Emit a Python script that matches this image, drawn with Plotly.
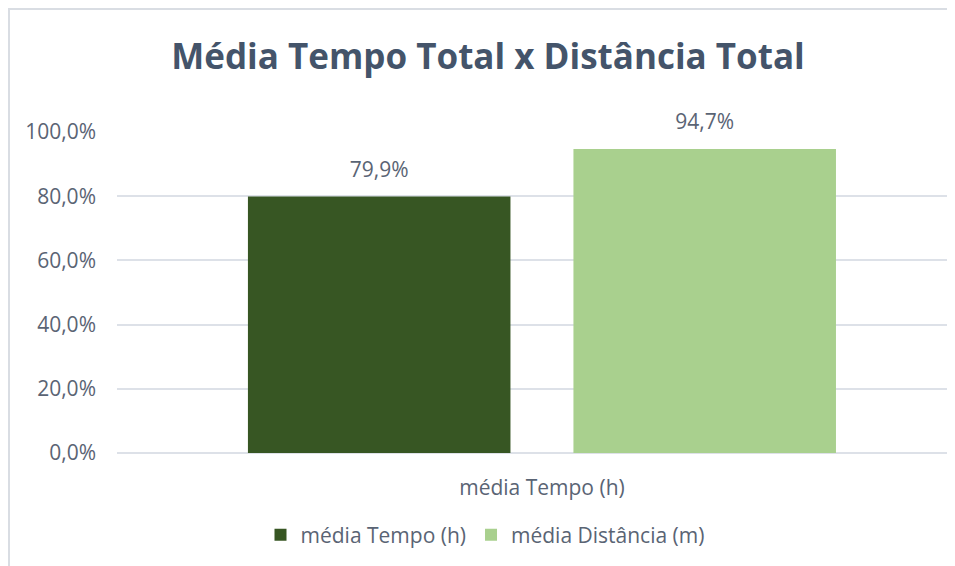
import plotly.graph_objects as go

categories = ["média Tempo (h)"]
series_names = ["média Tempo (h)", "média Distância (m)"]
tempo_values = [0.799]
distancia_values = [0.947]
y_tick_values = [0.0, 0.2, 0.4, 0.6, 0.8, 1.0]

colors = ["#375623", "#A9D08E"]
text_color = "#5A6474"
title_color = "#44546A"
grid_color = "#DDE1E8"
FONT = "Open Sans"

# the page body adds an 8px offset, so the figure is 8px smaller than the window
W, H = 947, 558
L, R, T, B = 109, 0, 124, 113

fig = go.Figure()
for name, vals, col in zip(series_names, [tempo_values, distancia_values], colors):
    fig.add_trace(go.Bar(
        name=name, x=categories, y=vals, marker=dict(color=col, line=dict(width=0)),
        texttemplate="<span style='font-size:21px'>%{y:.1%}</span><br>&nbsp;",
        textposition="outside", cliponaxis=False,
        textfont=dict(family=FONT, size=10.5, color=text_color),
    ))

plot_w = W - L - R
plot_h = H - T - B
def px_x(p):
    return (p - L) / plot_w
def px_y(p):
    return (H - B - p) / plot_h

fig.update_layout(
    width=W, height=H,
    margin=dict(l=L, r=R, t=T, b=B, autoexpand=False),
    paper_bgcolor="white", plot_bgcolor="white",
    separators=",.",
    barmode="group", bargap=0.234, bargroupgap=0.1935,
    title=dict(text="<b>Média Tempo Total x Distância Total</b>",
               font=dict(family=FONT, size=35, color=title_color),
               x=480 / W, xanchor="center", xref="container",
               y=1 - 49 / H, yanchor="middle", yref="container"),
    xaxis=dict(range=[-0.5, 0.486], showgrid=False, showline=False, zeroline=False,
               tickfont=dict(family=FONT, size=21, color=text_color),
               ticklabelstandoff=20, fixedrange=True),
    yaxis=dict(range=[0, 1], tickvals=y_tick_values, tickformat=".1%",
               showgrid=True, gridcolor=grid_color, gridwidth=2,
               zeroline=True, zerolinecolor=grid_color, zerolinewidth=2,
               showline=False, ticklabelstandoff=20,
               tickfont=dict(family=FONT, size=21, color=text_color)),
    showlegend=True,
    legend=dict(orientation="h", xref="container", yref="container",
                x=477 / W, xanchor="center", y=1 - 527 / H, yanchor="middle",
                font=dict(family=FONT, size=21, color=text_color),
                itemwidth=30, traceorder="normal"),
    shapes=[
        dict(type="line", xref="paper", yref="paper", x0=px_x(1), x1=px_x(1),
             y0=px_y(1), y1=px_y(570), line=dict(color="#D9DDE3", width=2)),
        dict(type="line", xref="paper", yref="paper", x0=px_x(0), x1=px_x(960),
             y0=px_y(1), y1=px_y(1), line=dict(color="#D9DDE3", width=2)),
    ],
)

fig.write_html("out.html")
